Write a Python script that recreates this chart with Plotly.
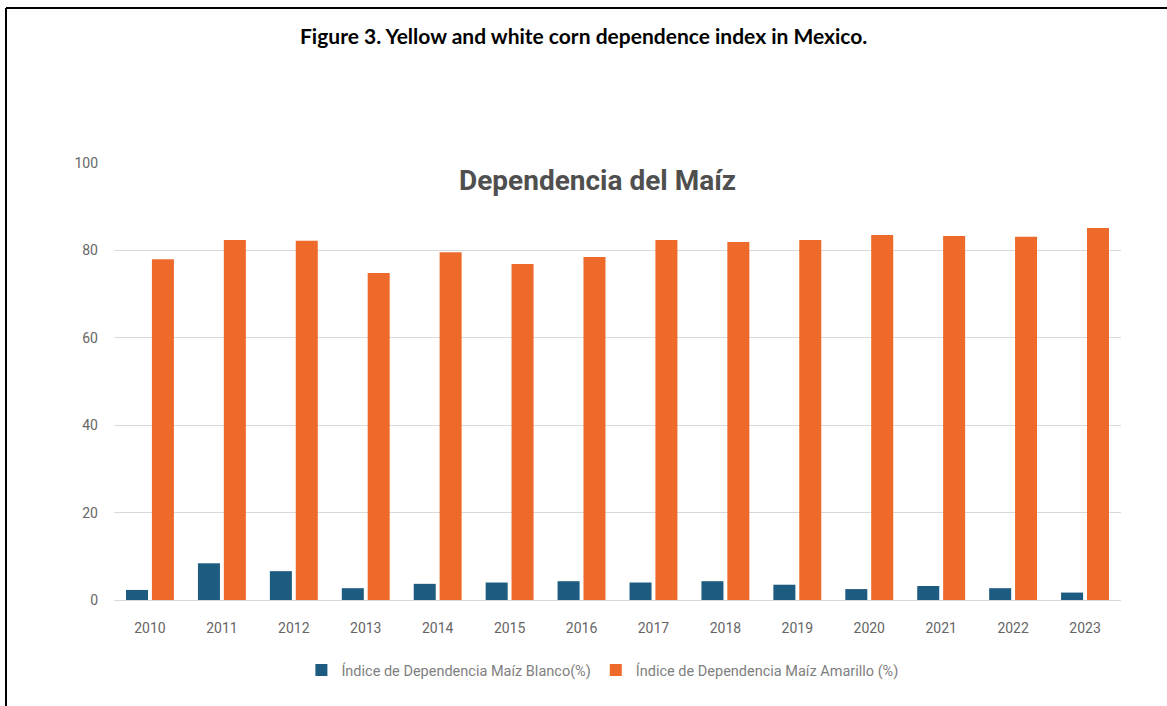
import plotly.graph_objects as go

# Corn dependence index by year (%)
years = ["2010", "2011", "2012", "2013", "2014", "2015", "2016",
         "2017", "2018", "2019", "2020", "2021", "2022", "2023"]
white_corn = [2.3, 8.4, 6.6, 2.7, 3.7, 4.0, 4.3, 4.0, 4.3, 3.5, 2.5, 3.2, 2.7, 1.7]
yellow_corn = [78.0, 82.4, 82.2, 74.8, 79.6, 76.9, 78.5, 82.4, 81.9, 82.4, 83.5, 83.3, 83.1, 85.1]
y_ticks = [0, 20, 40, 60, 80, 100]

BLUE = "#1d5c80"
ORANGE = "#ee6a2b"
TEXT_GRAY = "#666666"

W, H = 1167, 706
L, R, T, B = 114, 46, 163, 106
pw, ph = W - L - R, H - T - B


def px(x):
    return (x - L) / pw


def py(y):
    return (H - B - y) / ph


fig = go.Figure()
fig.add_trace(go.Bar(x=years, y=white_corn, name="Índice de Dependencia Maíz Blanco(%)",
                     marker=dict(color=BLUE, line_width=0)))
fig.add_trace(go.Bar(x=years, y=yellow_corn, name="Índice de Dependencia Maíz Amarillo (%)",
                     marker=dict(color=ORANGE, line_width=0)))

fig.update_layout(
    width=W, height=H,
    margin=dict(l=L, r=R, t=T, b=B),
    paper_bgcolor="white", plot_bgcolor="white",
    barmode="group", bargap=0.28, bargroupgap=0.15,
    font=dict(family="Roboto", color=TEXT_GRAY, size=13),
    showlegend=True,
    legend=dict(orientation="h", x=0.485, xanchor="center", y=py(670), yanchor="middle",
                font=dict(family="Roboto", size=14.5, color="#808080"),
                itemwidth=30, traceorder="normal"),
    xaxis=dict(showgrid=False, showline=False, ticks="", ticklabelstandoff=18,
               tickfont=dict(size=14, color=TEXT_GRAY)),
    yaxis=dict(range=[0, 100], tickvals=y_ticks, showgrid=True, gridcolor="#d9d9d9",
               gridwidth=1, zeroline=True, zerolinecolor="#d9d9d9", zerolinewidth=1,
               showline=False, ticks="", ticklabelstandoff=15,
               tickfont=dict(size=14, color=TEXT_GRAY)),
)

# Figure caption and chart title
fig.add_annotation(text="<b>Figure 3. Yellow and white corn dependence index in Mexico.</b>",
                   xref="paper", yref="paper", x=px(583), y=py(35),
                   xanchor="center", yanchor="middle", showarrow=False,
                   font=dict(family="Lato", size=21, color="#000000"))
fig.add_annotation(text="<b>Dependencia del Maíz</b>",
                   xref="paper", yref="paper", x=px(597), y=py(180),
                   xanchor="center", yanchor="middle", showarrow=False,
                   font=dict(family="Roboto", size=28, color="#4f4f4f"))

# Frame lines along the top and left edges
fig.add_shape(type="line", xref="paper", yref="paper", x0=px(6), x1=px(W + 2),
              y0=py(8), y1=py(8), line=dict(color="black", width=2))
fig.add_shape(type="line", xref="paper", yref="paper", x0=px(6), x1=px(6),
              y0=py(8), y1=py(H + 2), line=dict(color="black", width=2))

fig.write_html("out.html")
